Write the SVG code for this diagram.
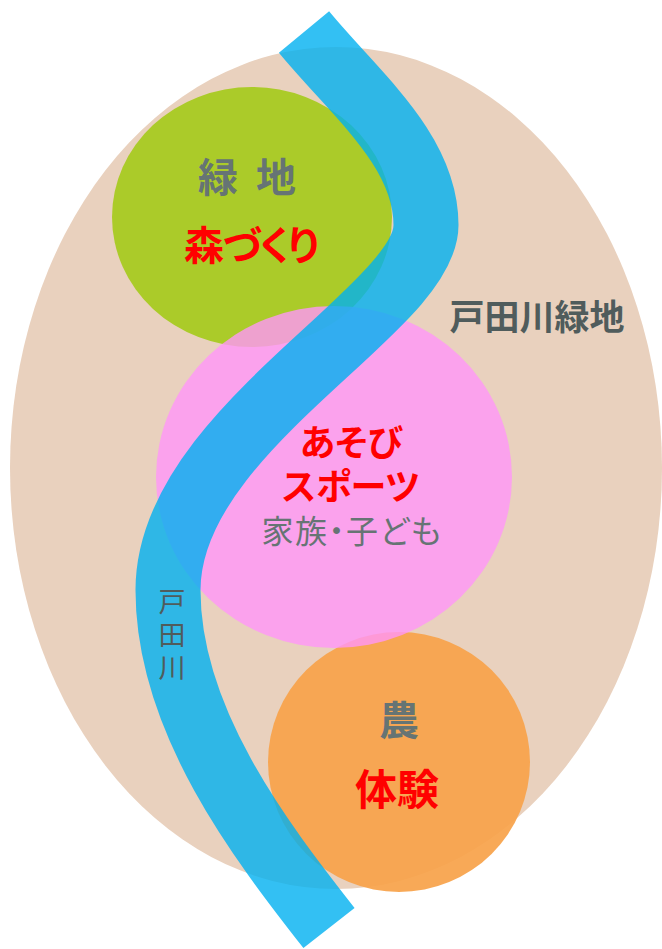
<svg xmlns="http://www.w3.org/2000/svg" width="662" height="949" viewBox="0 0 662 949">
<style>
text{font-family:"Noto Sans CJK JP","Noto Sans CJK SC",sans-serif;text-anchor:middle;font-feature-settings:"palt"}
.b{font-weight:bold}
.n{font-weight:normal}
.red{fill:#FF0000}
.gray{fill:#667474}
.dark{fill:#505C5C}
</style>
<g id="area">
<ellipse cx="336" cy="468" rx="326" ry="421" fill="#E9D1BE"/>
<text class="b dark" x="537" y="330" font-size="35">戸田川緑地</text>
</g>
<g id="ryokuchi">
<ellipse cx="252" cy="217" rx="140" ry="130" fill="#ABCB29"/>
<text class="b gray" x="218" y="192" font-size="40">緑</text>
<text class="b gray" x="276" y="192" font-size="40">地</text>
<text class="b red" x="251" y="260" font-size="40" letter-spacing="-1.5">森づくり</text>
</g>
<g id="nou">
<ellipse cx="399" cy="762" rx="131" ry="130" fill="#F8A24A" opacity="0.93"/>
<text class="b gray" x="399" y="735" font-size="40">農</text>
<text class="b red" x="397" y="805" font-size="42">体験</text>
</g>
<g id="asobi">
<ellipse cx="334" cy="477" rx="178" ry="171" fill="#FF96F9" opacity="0.8"/>
</g>
<g id="connectors">
<path id="river" d="M304,32 C355,94 426,150 426,225 C426,310 168,430 168,590 C168,720 260,840 329,928" fill="none" stroke="#00B0F0" stroke-opacity="0.8" stroke-width="65"/>
</g>
<g id="asobi-label">
<text class="b red" font-size="36"><tspan x="351" y="456">あそび</tspan><tspan x="351" y="500">スポーツ</tspan><tspan class="n gray" x="352" y="543" font-size="32" letter-spacing="1.5">家族・子ども</tspan></text>
</g>
<g id="river-label">
<text class="dark" x="172" y="588" font-size="27" letter-spacing="6" writing-mode="vertical-rl" style="text-anchor:start">戸田川</text>
</g>
</svg>
